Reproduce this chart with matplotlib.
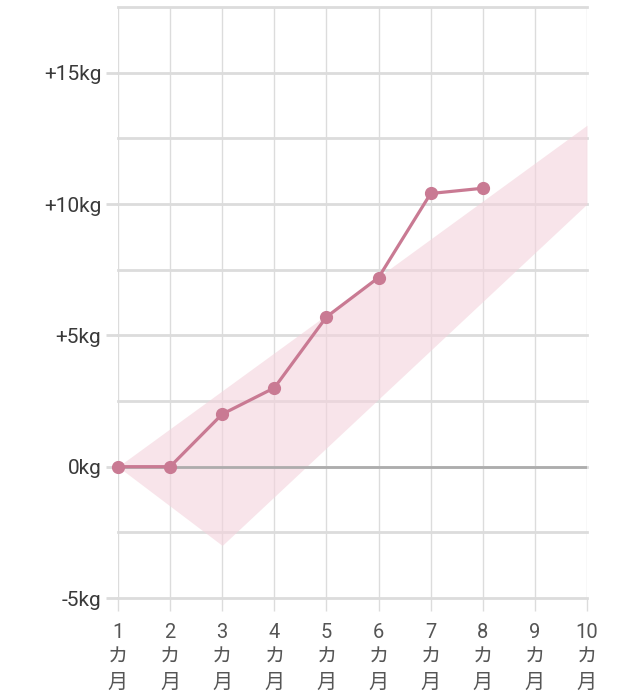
import numpy as np
import matplotlib.pyplot as plt

plt.rcParams['font.family'] = ['Roboto', 'Noto Sans CJK JP', 'DejaVu Sans']

months = [1, 2, 3, 4, 5, 6, 7, 8]
gain = [0, 0, 2.0, 3.0, 5.7, 7.2, 10.4, 10.6]

band_x = [1, 3, 10]
band_low = [0, -3, 10]
band_high = [0, 0 + 13 * 2 / 9, 13]

month_ticks = list(range(1, 11))
month_labels = [f"{m}\nカ\n月" for m in month_ticks]
y_ticks = [-5, 0, 5, 10, 15]
y_labels = ["-5kg", "0kg", "+5kg", "+10kg", "+15kg"]

fig = plt.figure(figsize=(6.4, 6.97), dpi=100)
ax = fig.add_axes([118 / 640, 99 / 697, (587 - 118) / 640, (598 - 7) / 697])

grid_c = "#dcdcdc"
for y in np.arange(-5, 17.6, 2.5):
    ax.axhline(y, color=grid_c, lw=2, zorder=1, clip_on=False)
for x in month_ticks:
    ax.axvline(x, color=grid_c, lw=1, zorder=1)

ax.fill_between(band_x, band_low, band_high, color="#f4d3dc", alpha=0.6,
                lw=0, zorder=2)
ax.axhline(0, color="#a8a8a8", lw=2, zorder=3, alpha=0.9)
ax.plot(months, gain, color="#c97a93", lw=2.3, marker="o", ms=8.5,
        zorder=4, clip_on=False)

ax.set_xlim(1, 10)
ax.set_ylim(-5, 17.5)
ax.set_xticks(month_ticks)
ax.set_xticklabels(month_labels, fontsize=14.5, color="#555555", linespacing=1.4)
ax.set_yticks(y_ticks)
ax.set_yticklabels(y_labels, fontsize=15, color="#3a3a3a")
ax.tick_params(axis="x", length=9, width=1, color=grid_c, pad=9)
ax.tick_params(axis="y", length=9, width=2, color=grid_c, pad=3)
for s in ax.spines.values():
    s.set_visible(False)

fig.savefig("out.png", dpi=100, facecolor="white")
